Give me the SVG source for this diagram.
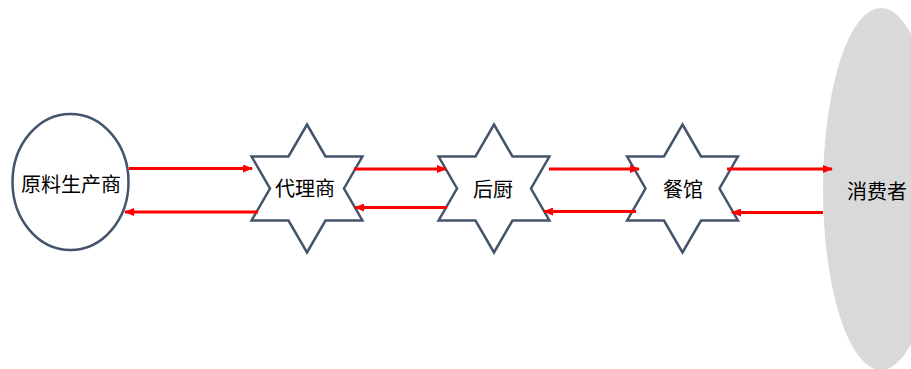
<svg xmlns="http://www.w3.org/2000/svg" width="911" height="369" viewBox="0 0 911 369">
<defs>
<style>
.node{fill:#FFFFFF;stroke:#44546A;stroke-width:2.5}
.label{font-family:"Liberation Sans","Noto Sans CJK SC",sans-serif;font-size:20px;fill:#000000;text-anchor:middle;dominant-baseline:central}
.arrow{stroke:#FF0000;stroke-width:3;fill:none;marker-end:url(#ah)}
</style>
<marker id="ah" markerWidth="10" markerHeight="8" refX="9" refY="4" orient="auto" markerUnits="userSpaceOnUse">
<path d="M0,0 L10,4 L0,8 Z" fill="#FF0000"/>
</marker>
<polygon id="star" points="0,-64 18.5,-32 55.4,-32 37,0 55.4,32 18.5,32 0,64 -18.5,32 -55.4,32 -37,0 -55.4,-32 -18.5,-32"/>
</defs>
<rect width="911" height="369" fill="#FFFFFF"/>
<g id="consumer">
<ellipse cx="881" cy="189" rx="58" ry="181" fill="#D9D9D9"/>
<text class="label" x="877" y="192">消费者</text>
</g>
<g id="producer">
<ellipse class="node" cx="70.5" cy="182" rx="58" ry="68"/>
<text class="label" x="71" y="185">原料生产商</text>
</g>
<g id="agent">
<use href="#star" class="node" x="307" y="188.5"/>
<text class="label" x="305" y="189">代理商</text>
</g>
<g id="kitchen">
<use href="#star" class="node" x="494" y="188.5"/>
<text class="label" x="493" y="190">后厨</text>
</g>
<g id="restaurant">
<use href="#star" class="node" x="682.5" y="188.5"/>
<text class="label" x="683" y="190">餐馆</text>
</g>
<g id="connectors">
<line class="arrow" x1="129" y1="168.5" x2="252" y2="168.5"/>
<line class="arrow" x1="258" y1="212" x2="125" y2="212"/>
<line class="arrow" x1="354" y1="169" x2="446" y2="169"/>
<line class="arrow" x1="447" y1="207.5" x2="355" y2="207.5"/>
<line class="arrow" x1="549" y1="169" x2="639" y2="169"/>
<line class="arrow" x1="636" y1="211.5" x2="544" y2="211.5"/>
<line class="arrow" x1="727" y1="169" x2="832" y2="169"/>
<line class="arrow" x1="823" y1="212.5" x2="732" y2="212.5"/>
</g>
</svg>
